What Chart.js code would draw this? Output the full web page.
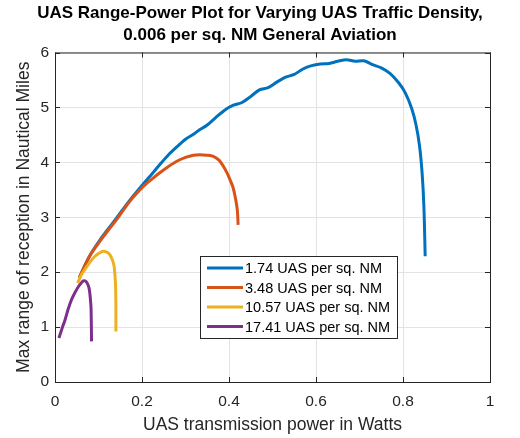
<!DOCTYPE html>
<html>
<head>
<meta charset="utf-8">
<script src="https://cdn.jsdelivr.net/npm/chart.js@4"></script>
<style>
  body { margin: 0; background: #fff; }
  #wrap { width: 520px; height: 438px; }
</style>
</head>
<body>
<div id="wrap"><canvas id="rangeChart" width="520" height="438"></canvas></div>
<script>
// series labels and colours (MATLAB default order)
const seriesLabels = ['1.74 UAS per sq. NM', '3.48 UAS per sq. NM', '10.57 UAS per sq. NM', '17.41 UAS per sq. NM'];
const seriesColors = ['#0072BD', '#D95319', '#EDB120', '#7E2F8E'];

// power (W) / range (NM)
const bluePower = [0.056, 0.08, 0.11, 0.14, 0.17, 0.2, 0.22, 0.24, 0.26, 0.28, 0.3, 0.32, 0.33, 0.35, 0.37, 0.39, 0.41, 0.43, 0.45, 0.47, 0.49, 0.51, 0.53, 0.55, 0.57, 0.59, 0.61, 0.63, 0.65, 0.67, 0.69, 0.71, 0.73, 0.75, 0.77, 0.79, 0.805, 0.82, 0.83, 0.838, 0.844, 0.848, 0.851];
const blueRange = [1.9, 2.3, 2.66, 2.97, 3.29, 3.58, 3.76, 3.95, 4.13, 4.28, 4.42, 4.52, 4.58, 4.68, 4.82, 4.95, 5.04, 5.09, 5.2, 5.32, 5.36, 5.46, 5.55, 5.6, 5.7, 5.76, 5.79, 5.8, 5.84, 5.87, 5.84, 5.85, 5.78, 5.72, 5.62, 5.45, 5.27, 4.98, 4.68, 4.3, 3.8, 3.2, 2.29];

const orangePower = [0.056, 0.065, 0.08, 0.103, 0.126, 0.142, 0.172, 0.203, 0.222, 0.241, 0.26, 0.28, 0.3, 0.318, 0.333, 0.349, 0.364, 0.377, 0.387, 0.396, 0.402, 0.409, 0.414, 0.419, 0.421];
const orangeRange = [1.9, 2.06, 2.3, 2.56, 2.8, 2.96, 3.29, 3.56, 3.69, 3.81, 3.92, 4.02, 4.09, 4.13, 4.14, 4.13, 4.11, 4.04, 3.93, 3.8, 3.69, 3.55, 3.38, 3.14, 2.86];

const yellowPower = [0.052, 0.062, 0.073, 0.083, 0.092, 0.102, 0.111, 0.12, 0.126, 0.132, 0.136, 0.139, 0.14, 0.14];
const yellowRange = [1.8, 1.97, 2.1, 2.21, 2.29, 2.35, 2.38, 2.36, 2.32, 2.22, 2.1, 1.8, 1.37, 0.92];

const purplePower = [0.009, 0.016, 0.023, 0.03, 0.038, 0.046, 0.054, 0.06, 0.065, 0.07, 0.074, 0.078, 0.08, 0.082, 0.083, 0.084];
const purpleRange = [0.8, 0.97, 1.13, 1.32, 1.5, 1.63, 1.74, 1.8, 1.84, 1.84, 1.8, 1.72, 1.62, 1.45, 1.31, 0.74];

const xTicks = [0, 0.2, 0.4, 0.6, 0.8, 1];
const yTicks = [0, 1, 2, 3, 4, 5, 6];

function toPoints(xs, ys) {
    return xs.map((x, i) => ({ x: x, y: ys[i] }));
}

const allPower = [bluePower, orangePower, yellowPower, purplePower];
const allRange = [blueRange, orangeRange, yellowRange, purpleRange];

const datasets = seriesLabels.map((label, i) => ({
    label: label,
    data: toPoints(allPower[i], allRange[i]),
    borderColor: seriesColors[i],
    backgroundColor: seriesColors[i],
    borderWidth: 3,
    pointRadius: 0,
    tension: 0.3,
    fill: false,
    order: seriesLabels.length - i, // later series drawn on top, as in MATLAB
}));

const axisColor = '#262626';
const fontFamily = '"Liberation Sans", Arial, sans-serif';

// box round the axes plus inward ticks, like MATLAB's "box on"
const boxPlugin = {
    id: 'boxPlugin',
    afterDatasetsDraw(chart) {
        const { ctx, chartArea: a, scales } = chart;
        ctx.save();
        ctx.strokeStyle = axisColor;
        ctx.lineWidth = 1;
        ctx.strokeRect(a.left + 0.5, a.top + 0.5, a.right - a.left, a.bottom - a.top);
        ctx.beginPath();
        xTicks.forEach(v => {
            const px = Math.round(scales.x.getPixelForValue(v)) + 0.5;
            ctx.moveTo(px, a.bottom); ctx.lineTo(px, a.bottom - 5);
            ctx.moveTo(px, a.top); ctx.lineTo(px, a.top + 5);
        });
        yTicks.forEach(v => {
            const py = Math.round(scales.y.getPixelForValue(v)) + 0.5;
            ctx.moveTo(a.left, py); ctx.lineTo(a.left + 5, py);
            ctx.moveTo(a.right, py); ctx.lineTo(a.right - 5, py);
        });
        ctx.stroke();
        ctx.restore();
    }
};

// legend box placed inside the plot, lower middle
const legendBox = {
    id: 'legendBox',
    afterDraw(chart) {
        const { ctx } = chart;
        const left = 200, top = 256, w = 197, h = 82, rowH = 19.5;
        ctx.save();
        ctx.fillStyle = '#fff';
        ctx.fillRect(left, top, w, h);
        ctx.strokeStyle = axisColor;
        ctx.lineWidth = 1;
        ctx.strokeRect(left + 0.5, top + 0.5, w, h);
        ctx.font = '14.5px ' + fontFamily;
        ctx.textBaseline = 'middle';
        chart.data.datasets.forEach((ds, i) => {
            const y = top + 12 + i * rowH;
            ctx.strokeStyle = ds.borderColor;
            ctx.lineWidth = 3;
            ctx.beginPath();
            ctx.moveTo(left + 7, y);
            ctx.lineTo(left + 43, y);
            ctx.stroke();
            ctx.fillStyle = '#000';
            ctx.fillText(ds.label, left + 45, y + 1);
        });
        ctx.restore();
    }
};

new Chart(document.getElementById('rangeChart'), {
    type: 'line',
    data: { datasets: datasets },
    options: {
        responsive: false,
        animation: false,
        layout: { padding: 0 },
        plugins: {
            legend: { display: false },
            tooltip: { enabled: false },
            title: {
                display: true,
                text: ['UAS Range-Power Plot for Varying UAS Traffic Density,', '0.006 per sq. NM General Aviation'],
                color: '#000',
                font: { family: fontFamily, size: 17, weight: 'bold', lineHeight: 1.25 },
                padding: { top: 3, bottom: 7 },
            },
        },
        scales: {
            x: {
                type: 'linear',
                min: 0,
                max: 1,
                afterBuildTicks(scale) { scale.ticks = xTicks.map(v => ({ value: v })); },
                afterFit(scale) { scale.height = 56; },
                ticks: {
                    color: axisColor,
                    font: { family: fontFamily, size: 15.5 },
                    padding: 10,
                    maxRotation: 0,
                    callback: v => String(v),
                },
                grid: { color: '#e3e3e3', tickLength: 0, drawTicks: false },
                border: { display: false },
                title: {
                    display: true,
                    text: 'UAS transmission power in Watts',
                    color: axisColor,
                    font: { family: fontFamily, size: 17.5 },
                    padding: { top: 4, bottom: 2 },
                },
            },
            y: {
                type: 'linear',
                min: 0,
                max: 6,
                afterBuildTicks(scale) { scale.ticks = yTicks.map(v => ({ value: v })); },
                afterFit(scale) { scale.width = 55; },
                ticks: {
                    color: axisColor,
                    font: { family: fontFamily, size: 15.5 },
                    padding: 6,
                },
                grid: { color: '#e3e3e3', tickLength: 0, drawTicks: false },
                border: { display: false },
                title: {
                    display: true,
                    text: 'Max range of reception in Nautical Miles',
                    color: axisColor,
                    font: { family: fontFamily, size: 17.5 },
                    padding: { top: 14, bottom: 0 },
                },
            },
            // empty right-hand axis that only reserves the right margin
            yRight: {
                type: 'linear',
                position: 'right',
                min: 0,
                max: 6,
                afterFit(scale) { scale.width = 30; },
                ticks: { display: false },
                grid: { display: false },
                border: { display: false },
            },
        },
    },
    plugins: [boxPlugin, legendBox],
});
</script>
</body>
</html>
